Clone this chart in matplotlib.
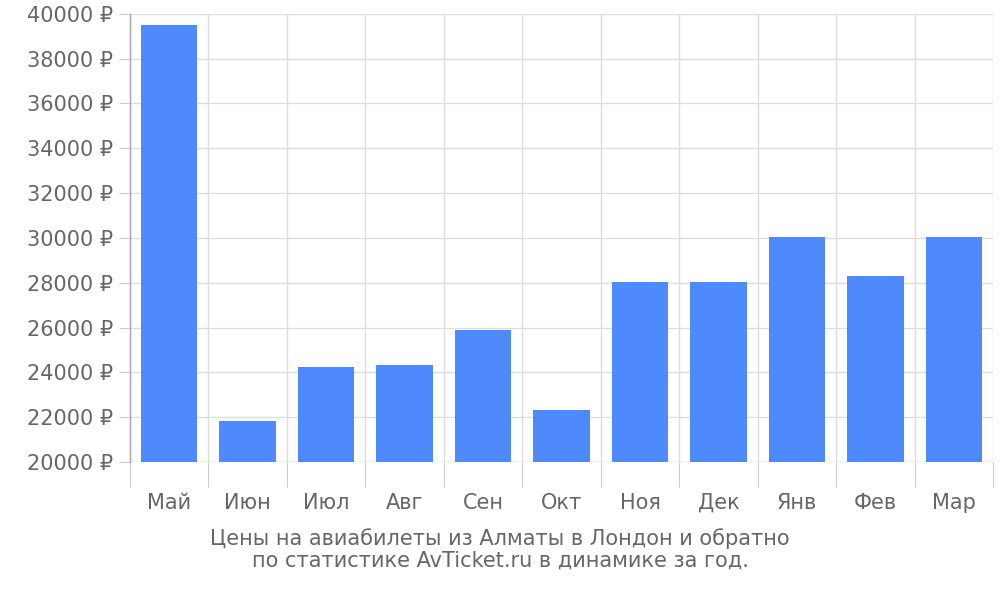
import matplotlib
matplotlib.use("Agg")
import matplotlib.pyplot as plt
import numpy as np

months = ["Май","Июн","Июл","Авг","Сен","Окт","Ноя","Дек","Янв","Фев","Мар"]
prices = [39500, 21850, 24250, 24350, 25900, 22300, 28050, 28050, 30050, 28300, 30050]
yticks = list(range(20000, 40001, 2000))

fig = plt.figure(figsize=(10, 6), dpi=100)
ax = fig.add_axes([0.130, 0.230, 0.863, 0.747])
x = np.arange(len(months))
ax.bar(x, prices, width=0.72, color="#4e8afc", zorder=3)
ax.set_xlim(-0.5, len(months) - 0.5)
ax.set_ylim(20000, 40000)
ax.set_yticks(yticks)
ax.set_yticklabels([f"{v} ₽" for v in yticks], color="#666666", fontsize=15)
ax.set_xticks(np.arange(-0.5, len(months), 1.0))
ax.set_xticklabels([])
ax.set_xticks(x, minor=True)
ax.set_xticklabels(months, minor=True, color="#666666", fontsize=15)
ax.tick_params(axis="x", which="major", length=18, color="#cccccc")
ax.tick_params(axis="x", which="minor", length=0, pad=22)
ax.tick_params(axis="y", length=8, color="#cccccc", pad=4)
ax.grid(True, which="major", color="#dddddd", linewidth=1, zorder=0)
for s in ["top", "right", "bottom"]:
    ax.spines[s].set_visible(False)
ax.spines["left"].set_color("#aaaaaa")
ax.spines["left"].set_bounds(20000, 40000)
ax.plot([-0.5, -0.5], [20000, 40000], color="#aaaaaa", lw=1, clip_on=False)
ax.axhline(20000, color="#dddddd", lw=1, zorder=2)
fig.text(0.5, 0.085, "Цены на авиабилеты из Алматы в Лондон и обратно\nпо статистике AvTicket.ru в динамике за год.",
         ha="center", va="center", color="#666666", fontsize=15, linespacing=1.1)
fig.savefig("out.png", dpi=100)
